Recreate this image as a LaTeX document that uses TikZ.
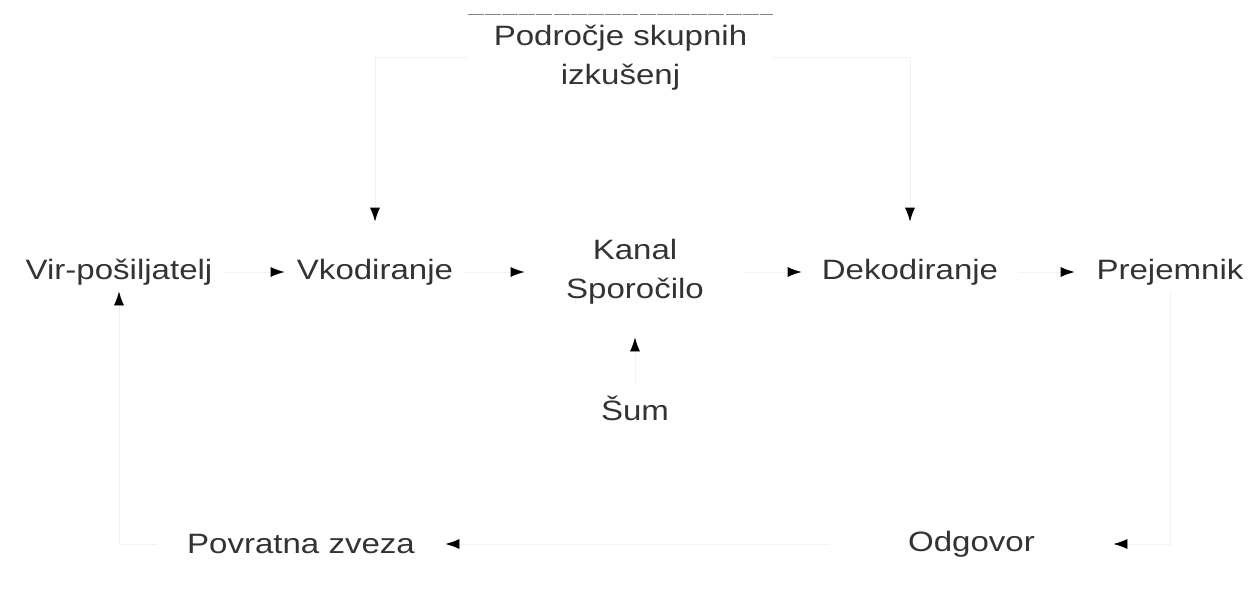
\documentclass[tikz,border=0pt]{standalone}
\usepackage{fontspec}
\setmainfont[FakeStretch=1.18]{Liberation Sans}
\usetikzlibrary{arrows.meta}
\begin{document}
\begin{tikzpicture}[x=0.5pt,y=-0.5pt,
  lbl/.style={font=\fontsize{14pt}{19.5pt}\selectfont, text=black!80, align=center, inner sep=0pt},
  conn/.style={draw=black!5, line width=0.4pt, -{Latex[length=7pt,width=5pt,color=black]}},
  topedge/.style={draw=black!50, line width=0.7pt, dash pattern=on 8pt off 0.6pt},
]
\useasboundingbox (0,0) rectangle (1250,589);

\node[lbl, minimum width=152.5pt, minimum height=42.5pt] (pod) at (620.5,57.5) {Področje skupnih\\izkušenj};
\node[lbl, minimum width=105.5pt, minimum height=19pt] (vir) at (119,272) {Vir-pošiljatelj};
\node[lbl, minimum width=90pt, minimum height=50pt] (vk) at (375,272) {Vkodiranje};
\node[lbl, minimum width=110pt, minimum height=65pt] (kanal) at (635,272) {Kanal\\Sporočilo};
\node[lbl, minimum width=108pt, minimum height=50pt] (dek) at (910,272) {Dekodiranje};
\node[lbl, minimum width=95pt, minimum height=19pt] (prej) at (1170,272) {Prejemnik};
\node[lbl, minimum width=40pt, minimum height=24pt] (sum) at (635,408) {Šum};
\node[lbl, minimum width=144pt, minimum height=19pt] (povr) at (301,544) {Povratna zveza};
\node[lbl, minimum width=141.5pt, minimum height=19pt] (odg) at (971.5,544) {Odgovor};

\draw[topedge] (pod.north west) -- (pod.north east);

\draw[conn] (pod.west) -| (vk);
\draw[conn] (pod.east) -| (dek);
\draw[conn] (vir) -- (vk);
\draw[conn] (vk) -- (kanal);
\draw[conn] (kanal) -- (dek);
\draw[conn] (dek) -- (prej);
\draw[conn] (sum) -- (kanal);
\draw[conn] (prej) |- (odg);
\draw[conn] (odg) -- (povr);
\draw[conn] (povr) -| (vir);
\end{tikzpicture}
\end{document}
